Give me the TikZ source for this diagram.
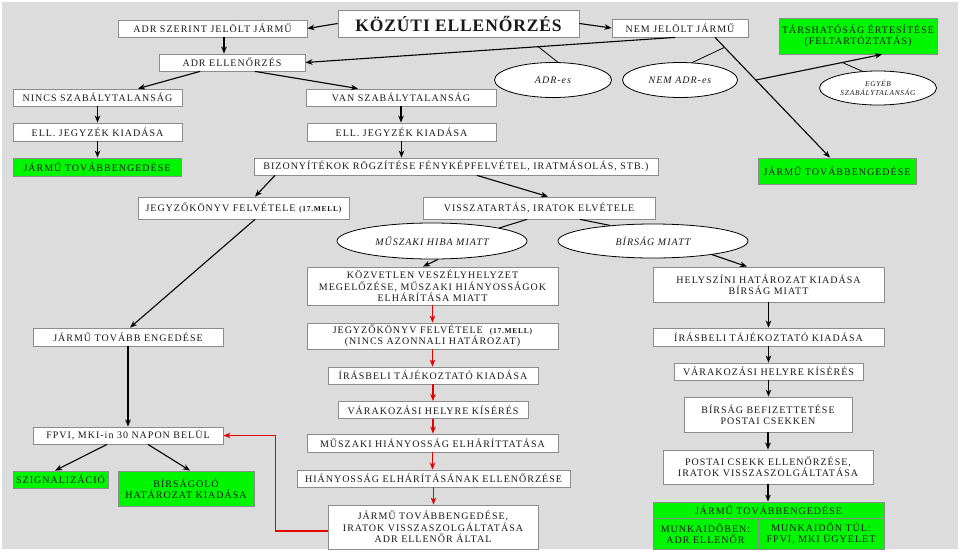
\documentclass[tikz,border=0pt]{standalone}
\usepackage{fontspec}
\setmainfont{Liberation Serif}[LetterSpace=10]
\newfontfamily\titlefont{Liberation Serif}[LetterSpace=5]
\usetikzlibrary{shapes.geometric,arrows.meta,calc}
\definecolor{bg}{RGB}{220,220,220}
\definecolor{bord}{RGB}{140,140,140}
\definecolor{grn}{RGB}{0,245,0}
\definecolor{txt}{RGB}{25,25,25}
\definecolor{redl}{RGB}{230,0,0}
\begin{document}
\begin{tikzpicture}[x=1pt,y=-1pt,
 sz/.style 2 args={minimum width=#1pt, minimum height=#2pt},
 box/.style={draw=bord, line width=0.8pt, fill=white, inner sep=0pt, align=center, text=txt, font=\fontsize{10}{11.5}\selectfont},
 gbox/.style={box, fill=grn},
 ell/.style={ellipse, draw=black, line width=0.8pt, fill=white, inner sep=0pt, align=center, text=txt, font=\fontsize{10}{11.5}\selectfont\itshape},
 arr/.style={-{Stealth[length=7pt,width=5.5pt,inset=2pt]}, line width=1.1pt},
 rarr/.style={arr, draw=redl},
 tl/.style={line width=0.8pt},
 ml/.style={line width=1pt},
]
\fill[white] (0,0) rectangle (960,552);
\fill[bg] (2,2) rectangle (958,549);
\useasboundingbox (0,0) rectangle (960,552);

% nodes
\node[box, sz={241}{27}, font=\fontsize{17.5}{20}\selectfont\titlefont\bfseries] (kozuti) at (458.5,23.5) {KÖZÚTI ELLENŐRZÉS};
\node[box, sz={189}{17}] (adrsz) at (212.5,28.5) {ADR SZERINT JELÖLT JÁRMŰ};
\node[box, sz={136}{18}] (nemjel) at (680,28) {NEM JELÖLT JÁRMŰ};
\node[gbox, sz={158}{36}] (tars) at (858,36) {TÁRSHATÓSÁG ÉRTESÍTÉSE\\(FELTARTÓZTATÁS)};
\node[box, sz={146}{17}] (adrell) at (232,62.5) {ADR ELLENŐRZÉS};
\node[box, sz={169}{17}] (nincs) at (97.5,97.5) {NINCS SZABÁLYTALANSÁG};
\node[box, sz={190}{17}] (van) at (401,97.5) {VAN SZABÁLYTALANSÁG};
\node[ell, sz={117}{35}] (adres) at (553,80) {ADR-es};
\node[ell, sz={115}{35}] (nemadres) at (680,80) {NEM ADR-es};
\node[ell, sz={117}{34}, font=\fontsize{7.4}{9}\selectfont\itshape] (egyeb) at (878,88) {EGYÉB\\SZABÁLYTALANSÁG};
\node[box, sz={169}{18}] (ell1) at (97.5,132) {ELL. JEGYZÉK KIADÁSA};
\node[box, sz={189}{18}] (ell2) at (401.5,132) {ELL. JEGYZÉK KIADÁSA};
\node[gbox, sz={168}{18}] (jt1) at (97,167) {JÁRMŰ TOVÁBBENGEDÉSE};
\node[box, sz={404}{17}] (biz) at (456,166.5) {BIZONYÍTÉKOK RÖGZÍTÉSE FÉNYKÉPFELVÉTEL, IRATMÁSOLÁS, STB.)};
\node[gbox, sz={158}{26}] (jt2) at (837,171) {JÁRMŰ TOVÁBBENGEDÉSE};
\node[box, sz={211}{22}] (jkv1) at (243.5,208) {JEGYZŐKÖNYV FELVÉTELE {\fontsize{7.5}{9}\selectfont\bfseries (17.MELL)}};
\node[box, sz={232}{22}] (vissza) at (539,208) {VISSZATARTÁS, IRATOK ELVÉTELE};
\node[ell, sz={190}{36}] (muszaki) at (432,241) {MŰSZAKI HIBA MIATT};
\node[ell, sz={190}{34}] (birsag) at (653,241) {BÍRSÁG MIATT};
\node[box, sz={251}{38}] (kozv) at (432.5,286) {KÖZVETLEN VESZÉLYHELYZET\\MEGELŐZÉSE, MŰSZAKI HIÁNYOSSÁGOK\\ELHÁRÍTÁSA MIATT};
\node[box, sz={231}{35}] (helysz) at (768.5,284.5) {HELYSZÍNI HATÁROZAT KIADÁSA\\BÍRSÁG MIATT};
\node[box, sz={190}{18}] (jtov) at (128,337) {JÁRMŰ TOVÁBB ENGEDÉSE};
\node[box, sz={251}{26}] (jkv2) at (432.5,336) {JEGYZŐKÖNYV FELVÉTELE \ {\fontsize{7.5}{9}\selectfont\bfseries (17.MELL)}\\(NINCS AZONNALI HATÁROZAT)};
\node[box, sz={231}{18}] (iras2) at (768.5,337) {ÍRÁSBELI TÁJÉKOZTATÓ KIADÁSA};
\node[box, sz={210}{17}] (iras1) at (433,375.5) {ÍRÁSBELI TÁJÉKOZTATÓ KIADÁSA};
\node[box, sz={189}{17}] (var2) at (768.5,371.5) {VÁRAKOZÁSI HELYRE KÍSÉRÉS};
\node[box, sz={190}{17}] (var1) at (433,410) {VÁRAKOZÁSI HELYRE KÍSÉRÉS};
\node[box, sz={168}{35}] (birbef) at (768,414.5) {BÍRSÁG BEFIZETTETÉSE\\POSTAI CSEKKEN};
\node[box, sz={190}{17}] (fpvi) at (128,435.5) {FPVI, MKI-in 30 NAPON BELÜL};
\node[box, sz={251}{18}] (musz) at (432.5,443) {MŰSZAKI HIÁNYOSSÁG ELHÁRÍTTATÁSA};
\node[box, sz={210}{34}] (postai) at (768,467) {POSTAI CSEKK ELLENŐRZÉSE,\\IRATOK VISSZASZOLGÁLTATÁSA};
\node[gbox, sz={95}{17}] (szign) at (60.5,479.5) {SZIGNALIZÁCIÓ};
\node[gbox, sz={136}{35}] (birsol) at (186,488.5) {BÍRSÁGOLÓ\\HATÁROZAT KIADÁSA};
\node[box, sz={273}{17}] (hiany) at (433.5,478.5) {HIÁNYOSSÁG ELHÁRÍTÁSÁNAK ELLENŐRZÉSE};
\node[box, sz={210}{44}] (jtov3) at (433,527) {JÁRMŰ TOVÁBBENGEDÉSE,\\IRATOK VISSZASZOLGÁLTATÁSA\\ADR ELLENŐR ÁLTAL};
\node[gbox, sz={231}{16}] (fintop) at (768.5,510) {JÁRMŰ TOVÁBBENGEDÉSE};
\node[gbox, sz={105}{31}] (finl) at (705.5,533.5) {MUNKAIDŐBEN:\\ADR ELLENŐR};
\node[gbox, sz={126}{31}] (finr) at (821,533.5) {MUNKAIDŐN TÚL:\\FPVI, MKI ÜGYELET};

% connectors
\draw[arr] (kozuti.west) -- (adrsz.east);
\draw[arr] (kozuti.east) -- (nemjel.west);
\draw[arr] ([xshift=11.5pt]adrsz.south) -- ([xshift=-8pt]adrell.north);
\draw[arr] ([xshift=-5pt]nemjel.south) -- coordinate[pos=0.37] (pA) (adrell.east);
\draw[tl] (pA) -- (adres.75);
\draw[arr] ([xshift=35pt]nemjel.south) -- coordinate[pos=0.083] (pB) coordinate[pos=0.355] (pC) ([xshift=-7pt]jt2.north);
\draw[tl] (pB) -- (nemadres.55);
\draw[arr] (pC) -- coordinate[pos=0.685] (pD) ([xshift=24pt]tars.south);
\draw[tl] (pD) -- (egyeb.133);
\draw[arr] ([xshift=-32pt]adrell.south) -- ([xshift=40.5pt]nincs.north);
\draw[arr] ([xshift=23pt]adrell.south) -- ([xshift=-43pt]van.north);
\draw[arr] (nincs.south) -- (nincs.south |- ell1.north);
\draw[arr] (van.south) -- (van.south |- ell2.north);
\draw[arr] (ell1.south) -- (ell1.south |- jt1.north);
\draw[arr] (ell2.south) -- (ell2.south |- biz.north);
\draw[arr] ([xshift=-181pt]biz.south) -- ([xshift=11.5pt]jkv1.north);
\draw[arr] ([xshift=21pt]biz.south) -- ([xshift=9pt]vissza.north);
\draw[arr] ([xshift=11.5pt]jkv1.south) -- ([xshift=2pt]jtov.north);
\draw[ml] ([xshift=-12pt]vissza.south) -- (muszaki.11);
\draw[ml] ([xshift=41pt]vissza.south) -- (birsag.160);
\draw[arr] ([xshift=6pt]muszaki.south) -- ([xshift=-9.5pt]kozv.north);
\draw[arr] (birsag.-13) -- ([xshift=-21.5pt]helysz.north);
\foreach \a/\b in {kozv/jkv2, jkv2/iras1, iras1/var1, var1/musz, musz/hiany, hiany/jtov3}
  \draw[rarr] (\a.south) -- (\a.south |- \b.north);
\draw[rarr] ([yshift=-4pt]jtov3.west) -- ++(-52,0) |- (fpvi.east);
\draw[arr] (jtov.south) -- (jtov.south |- fpvi.north);
\draw[arr] ([xshift=-21pt]fpvi.south) -- ([xshift=-5.5pt]szign.north);
\draw[arr] ([xshift=20pt]fpvi.south) -- ([xshift=4pt]birsol.north);
\foreach \a/\b in {helysz/iras2, iras2/var2, var2/birbef, birbef/postai, postai/fintop}
  \draw[arr] (\a.south) -- (\a.south |- \b.north);
\end{tikzpicture}
\end{document}
